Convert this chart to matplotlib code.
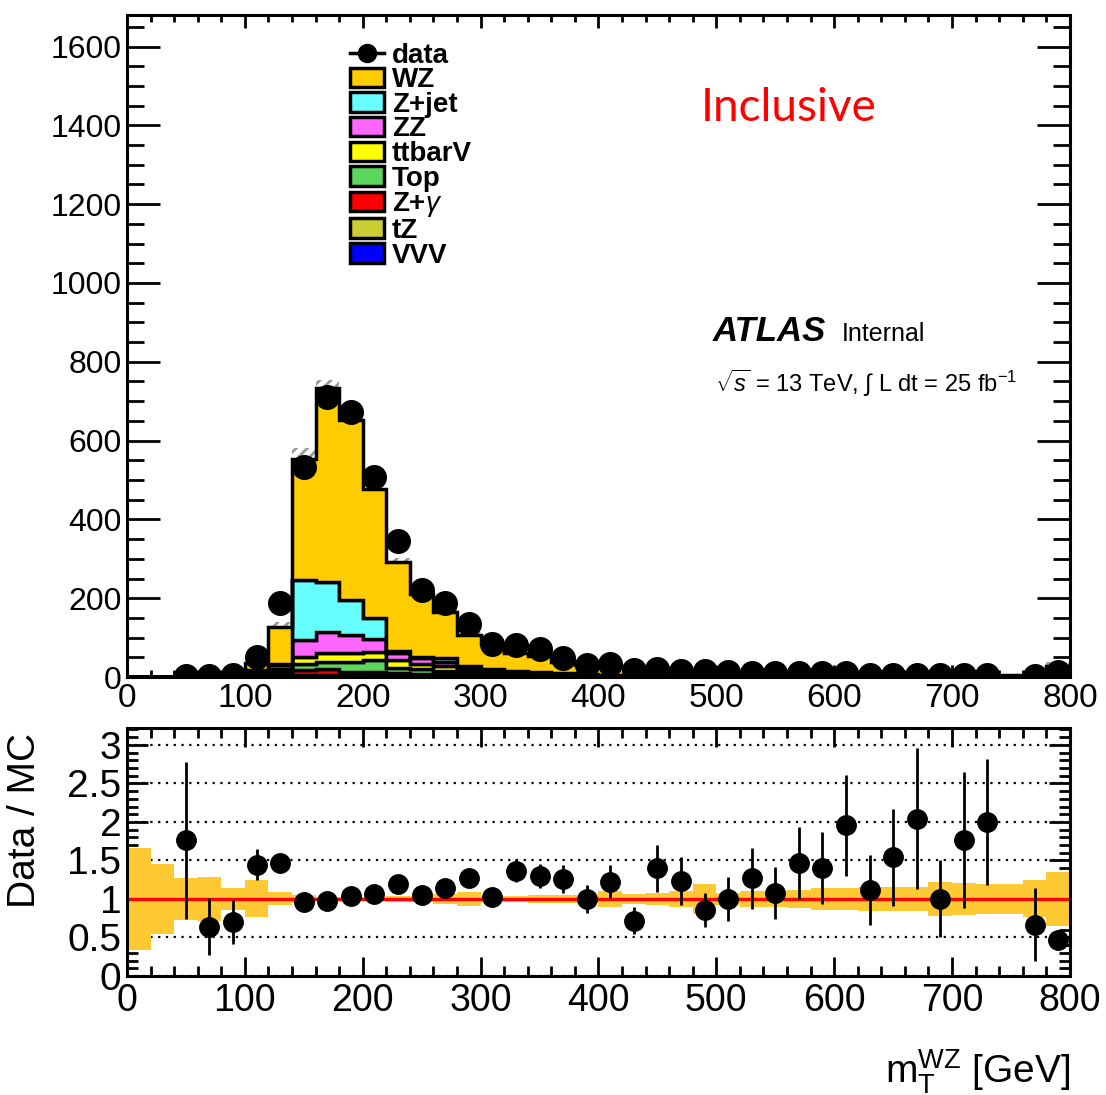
import matplotlib
matplotlib.use("Agg")
import matplotlib.pyplot as plt
import numpy as np
from matplotlib.lines import Line2D
from matplotlib.patches import Patch
from matplotlib.ticker import FormatStrFormatter, MultipleLocator

plt.rcParams["font.family"] = ["Liberation Sans", "DejaVu Sans"]
plt.rcParams["mathtext.fontset"] = "custom"
plt.rcParams["mathtext.rm"] = "Liberation Sans"
plt.rcParams["mathtext.it"] = "Liberation Sans:italic"
plt.rcParams["mathtext.bf"] = "Liberation Sans:bold"
plt.rcParams["hatch.linewidth"] = 2.0

# 20 GeV bins from 0 to 800 GeV
bin_edges = np.arange(0, 820, 20)

# MC yields per bin (events)
wz = [0.3, 0.5, 1.1, 3.0, 5.5, 19, 94, 309, 493, 456, 327, 225, 158, 116, 77, 63,
      45, 41.5, 29, 22.5, 20.9, 19.9, 11.4, 10.3, 13.9, 9.6, 6.2, 7.3, 5.6, 5.2,
      3.85, 4.2, 3.15, 1.9, 3.25, 1.72, 2.35, 5.35, 2.45, 22]
zjet = [0.1, 0.1, 0.2, 0.6, 1.0, 2, 3, 150, 125, 89, 53, 6, 4, 9, 3, 2, 2, 1, 1, 1,
        0.5, 0.5, 0.5, 0.3, 0.5, 0.3, 0.2, 0.2, 0.1, 0.1, 0.1, 0.1, 0.1, 0.1, 0.1,
        0.1, 0.1, 0.1, 0.1, 0.5]
zz = [0.05, 0.1, 0.2, 0.5, 1.0, 3, 10, 45, 55, 46, 32, 16, 14, 10, 6, 4, 3, 2.5, 2,
      1.5, 1.2, 1.0, 0.8, 0.6, 0.8, 0.5, 0.4, 0.5, 0.3, 0.3, 0.2, 0.3, 0.2, 0.1,
      0.2, 0.1, 0.1, 0.1, 0.1, 1.5]
ttbarv = [0, 0, 0.05, 0.2, 0.4, 3, 6, 18, 22, 22, 22, 20, 14, 14, 8, 5, 4, 3.5, 2.5,
          2, 1.8, 1.5, 1, 0.8, 1, 0.7, 0.5, 0.5, 0.3, 0.3, 0.2, 0.3, 0.2, 0.1, 0.2,
          0.1, 0.2, 0.2, 0.1, 1.5]
top = [0.05, 0.1, 0.1, 0.3, 0.6, 4, 8, 14, 18, 26, 28, 14, 12, 8, 6, 5, 3, 3, 2, 1.5,
       1.5, 1.2, 0.6, 0.5, 0.6, 0.5, 0.3, 0.4, 0.2, 0.2, 0.1, 0.2, 0.1, 0.1, 0.1,
       0.1, 0.1, 0.1, 0.1, 1.5]
zgamma = [0, 0, 0.05, 0.1, 0.1, 4, 5, 14, 16, 8, 10, 6, 5, 4, 3, 2, 1, 1, 0.5, 0.5,
          0.3, 0.3, 0.2, 0.1, 0.2, 0.1, 0.1, 0.1, 0.1, 0.1, 0.05, 0.1, 0.05, 0.05,
          0.05, 0.05, 0.05, 0.05, 0.05, 0.5]
tz = [0, 0, 0, 0, 0, 0.5, 1, 3, 3, 3, 3, 3, 2, 2, 2, 1, 1, 1, 0.5, 0.5, 0.5, 0.3,
      0.3, 0.2, 0.3, 0.2, 0.1, 0.2, 0.1, 0.1, 0.05, 0.1, 0.05, 0.05, 0.05, 0.05,
      0.05, 0.05, 0.05, 0.3]
vvv = [0, 0, 0, 0, 0, 0.5, 1, 1, 1, 1, 1, 1, 1, 1, 1, 1, 1, 0.5, 0.5, 0.5, 0.3, 0.3,
       0.2, 0.2, 0.2, 0.1, 0.1, 0.1, 0.1, 0.1, 0.05, 0.1, 0.05, 0.05, 0.05, 0.05,
       0.05, 0.05, 0.05, 0.2]

# relative MC statistical uncertainty per bin
mc_rel_err = [0.66, 0.45, 0.27, 0.28, 0.14, 0.24, 0.085, 0.05, 0.03, 0.03, 0.03,
              0.04, 0.04, 0.06, 0.09, 0.04, 0.04, 0.05, 0.05, 0.05, 0.10, 0.06,
              0.08, 0.10, 0.20, 0.08, 0.10, 0.10, 0.12, 0.14, 0.14, 0.16, 0.15,
              0.15, 0.22, 0.21, 0.19, 0.19, 0.24, 0.35]

# observed events per bin
data = [0, 0, 3, 3, 6, 52, 188, 534, 711, 672, 508, 346, 222, 187, 135, 85, 82, 70,
        48, 30, 33, 18, 21, 16, 15, 12, 10, 10, 10, 9, 9, 6, 6, 5, 4, 4, 6, 0, 2, 13]

# stacking order bottom -> top
samples = [
    ("VVV", vvv, "#0000FF"),
    ("tZ", tz, "#CCCC33"),
    ("Z+$\\gamma$", zgamma, "#FF0000"),
    ("Top", top, "#5CD65C"),
    ("ttbarV", ttbarv, "#FFFF00"),
    ("ZZ", zz, "#FF66FF"),
    ("Z+jet", zjet, "#66FFFF"),
    ("WZ", wz, "#FFCC00"),
]

centers = 0.5 * (bin_edges[:-1] + bin_edges[1:])
data = np.array(data, dtype=float)
rel = np.array(mc_rel_err)
mc_total = np.sum([np.array(v, dtype=float) for _, v, _ in samples], axis=0)

fig = plt.figure(figsize=(11.06, 10.95), dpi=100)
ax = fig.add_axes([0.1148, 0.3817, 0.8526, 0.6046])
rax = fig.add_axes([0.1148, 0.1087, 0.8526, 0.2265])

# MC stat band (hatched), mostly hidden behind the stack
ax.stairs(mc_total * (1 + rel), bin_edges, baseline=mc_total * (1 - rel), fill=True,
          facecolor="none", edgecolor="#999999", hatch="///", linewidth=0, zorder=1)

cum = np.zeros(len(centers))
for name, vals, color in samples:
    vals = np.array(vals, dtype=float)
    ax.stairs(cum + vals, bin_edges, baseline=cum.copy(), fill=True,
              facecolor=color, edgecolor="black", linewidth=2.5, zorder=2)
    cum = cum + vals

has_data = data > 0
ax.errorbar(centers[has_data], data[has_data], yerr=np.sqrt(data[has_data]),
            fmt="o", color="black", ms=17, elinewidth=2, capsize=0, zorder=5)

ax.set_xlim(0, 800)
ax.set_ylim(0, 1680)
ax.xaxis.set_major_locator(MultipleLocator(100))
ax.xaxis.set_minor_locator(MultipleLocator(20))
ax.yaxis.set_major_locator(MultipleLocator(200))
ax.yaxis.set_minor_locator(MultipleLocator(50))
ax.tick_params(axis="y", which="major", length=24, width=2, direction="in",
               right=True, labelsize=23, pad=4)
ax.tick_params(axis="y", which="minor", length=12, width=2, direction="in", right=True)
ax.tick_params(axis="x", which="major", length=9, width=2, direction="in",
               top=True, labelsize=24, pad=4)
ax.tick_params(axis="x", which="minor", length=5, width=2, direction="in", top=True)
for s in ax.spines.values():
    s.set_linewidth(2.2)

# legend (top entry first, as in the stack)
handles = [Line2D([], [], color="black", marker="o", ms=13, lw=2.5)]
labels = ["data"]
for name, vals, color in reversed(samples):
    handles.append(Patch(facecolor=color, edgecolor="black", linewidth=2.5))
    labels.append(name)
ax.legend(handles, labels, loc="upper left", bbox_to_anchor=(0.225, 0.975),
          frameon=False, prop={"weight": "bold", "size": 20},
          handlelength=1.2, handleheight=0.7, handletextpad=0.3,
          labelspacing=-0.05, borderaxespad=0)

ax.text(0.702, 0.86, "Inclusive", transform=ax.transAxes, color="#FF0000",
        fontsize=33, family="Lato", ha="center", va="center")
ax.text(0.6214, 0.508, "ATLAS", transform=ax.transAxes, fontsize=25,
        weight="bold", style="italic", ha="left", va="baseline")
ax.text(0.758, 0.508, "Internal", transform=ax.transAxes, fontsize=18,
        ha="left", va="baseline")
ax.text(0.6235, 0.43, r"$\sqrt{s}$ = 13 TeV, $\int$ L dt = 25 fb$^{-1}$",
        transform=ax.transAxes, fontsize=17, ha="left", va="baseline")

# ratio panel
ratio = np.where(mc_total > 0, data / mc_total, 0)
ratio_err = np.sqrt(data) / mc_total
rax.set_axisbelow(True)
rax.yaxis.grid(True, which="major", color="black", linestyle=(0, (1, 2.5)), lw=1.6,
               zorder=0)
rax.stairs(1 + rel, bin_edges, baseline=1 - rel, fill=True, facecolor="#FFC933",
           edgecolor="none", linewidth=0, zorder=1)
rax.axhline(1, color="#FF0000", lw=2.4, zorder=2)
rax.errorbar(centers[has_data], ratio[has_data], yerr=ratio_err[has_data],
             fmt="o", color="black", ms=14, elinewidth=2, capsize=0, zorder=5)
rax.set_xlim(0, 800)
rax.set_ylim(0, 3.22)
rax.xaxis.set_major_locator(MultipleLocator(100))
rax.xaxis.set_minor_locator(MultipleLocator(20))
rax.yaxis.set_major_locator(MultipleLocator(0.5))
rax.yaxis.set_minor_locator(MultipleLocator(0.1))
rax.yaxis.set_major_formatter(FormatStrFormatter("%g"))
rax.tick_params(axis="y", which="major", length=15, width=2, direction="in",
                right=True, labelsize=28, pad=4)
rax.tick_params(axis="y", which="minor", length=8, width=2, direction="in", right=True)
rax.tick_params(axis="x", which="major", length=14, width=2, direction="in",
                top=True, labelsize=27, pad=5)
rax.tick_params(axis="x", which="minor", length=7, width=2, direction="in", top=True)
for s in rax.spines.values():
    s.set_linewidth(2.2)
    s.set_zorder(6)

fig.text(0.0226, 0.251, "Data / MC", rotation=90, fontsize=28, ha="center",
         va="center")
fig.text(0.9675, 0.021, r"m$_{\mathrm{T}}^{\mathrm{WZ}}$ [GeV]", fontsize=28,
         ha="right", va="center")

fig.savefig("out.png", dpi=100)
